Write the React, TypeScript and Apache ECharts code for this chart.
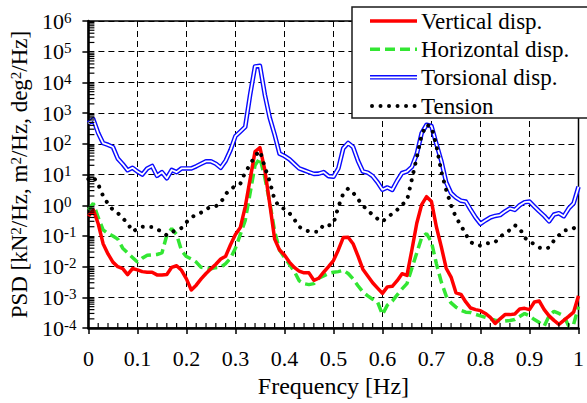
import React, { useEffect, useRef } from 'react';
import * as echarts from 'echarts';

const FREQ = [
  0, 0.01, 0.02, 0.03, 0.04, 0.05, 0.06, 0.07, 0.08, 0.09,
  0.1, 0.11, 0.12, 0.13, 0.14, 0.15, 0.16, 0.17, 0.18, 0.19,
  0.2, 0.21, 0.22, 0.23, 0.24, 0.25, 0.26, 0.27, 0.28, 0.29,
  0.3, 0.31, 0.32, 0.33, 0.34, 0.35, 0.36, 0.37, 0.38, 0.39,
  0.4, 0.41, 0.42, 0.43, 0.44, 0.45, 0.46, 0.47, 0.48, 0.49,
  0.5, 0.51, 0.52, 0.53, 0.54, 0.55, 0.56, 0.57, 0.58, 0.59,
  0.6, 0.61, 0.62, 0.63, 0.64, 0.65, 0.66, 0.67, 0.68, 0.69,
  0.7, 0.71, 0.72, 0.73, 0.74, 0.75, 0.76, 0.77, 0.78, 0.79,
  0.8, 0.81, 0.82, 0.83, 0.84, 0.85, 0.86, 0.87, 0.88, 0.89,
  0.9, 0.91, 0.92, 0.93, 0.94, 0.95, 0.96, 0.97, 0.98, 0.99,
  1.0,
];

const VERTICAL = [
  0.44, 0.71, 0.25, 0.056, 0.026, 0.0141, 0.01, 0.0087, 0.0055, 0.0087,
  0.0079, 0.0069, 0.0066, 0.0066, 0.0054, 0.0054, 0.0056, 0.0095, 0.0107, 0.0076,
  0.004, 0.00174, 0.0025, 0.004, 0.006, 0.0085, 0.012, 0.0178, 0.0219, 0.052,
  0.112, 0.19, 0.89, 7.1, 56, 76, 14.1, 1.12, 0.079, 0.035,
  0.024, 0.0141, 0.0095, 0.0072, 0.0063, 0.0063, 0.0036, 0.0042, 0.0066, 0.01,
  0.0158, 0.035, 0.089, 0.091, 0.056, 0.0224, 0.0083, 0.005, 0.003, 0.002,
  0.00135, 0.0022, 0.0023, 0.0035, 0.0059, 0.0052, 0.035, 0.26, 1.05, 1.9,
  1.32, 0.2, 0.045, 0.0089, 0.0046, 0.00141, 0.00126, 0.00071, 0.00045, 0.0004,
  0.00037, 0.0003, 0.000224, 0.000141, 0.0002, 0.000275, 0.000275, 0.00029, 0.00042, 0.00044,
  0.0004, 0.00071, 0.00076, 0.0004, 0.00025, 0.000178, 0.000132, 0.000178, 0.00024, 0.00033,
  0.00112,
];

const HORIZONTAL = [
  0.71, 1.15, 0.4, 0.158, 0.12, 0.1, 0.079, 0.04, 0.028, 0.02,
  0.0141, 0.019, 0.0234, 0.024, 0.025, 0.028, 0.105, 0.174, 0.112, 0.033,
  0.0214, 0.0178, 0.0141, 0.0095, 0.0091, 0.0085, 0.0093, 0.0095, 0.0126, 0.019,
  0.04, 0.112, 0.32, 2.5, 20, 35, 7.9, 1.26, 0.141, 0.035,
  0.02, 0.012, 0.0071, 0.0035, 0.0028, 0.0026, 0.0028, 0.0042, 0.005, 0.006,
  0.0066, 0.0069, 0.0076, 0.006, 0.004, 0.0024, 0.00151, 0.00112, 0.00087, 0.00071,
  0.000275, 0.00056, 0.00076, 0.0012, 0.0019, 0.0028, 0.0089, 0.028, 0.089, 0.12,
  0.063, 0.0126, 0.0032, 0.00112, 0.00066, 0.00048, 0.00038, 0.00033, 0.00032, 0.00028,
  0.00025, 0.000224, 0.0002, 0.000182, 0.00017, 0.00017, 0.000178, 0.00019, 0.00024, 0.0003,
  0.00025, 0.00019, 0.000151, 0.000117, 0.00025, 0.00035, 0.0003, 0.00025, 0.000117, 0.000132,
  0.0005,
];

const TORSIONAL = [
  470, 630, 224, 105, 93, 79, 33, 22, 13.8, 16.6,
  12.6, 10, 15.8, 19, 9.1, 12, 7.6, 14.1, 12, 15.8,
  15.8, 15.8, 18.6, 22.4, 26.9, 26.9, 22.4, 16.6, 28, 63,
  178, 251, 355, 3980, 33100, 34700, 3980, 708, 200, 48,
  40, 31.6, 22.4, 15.8, 13.8, 12, 10.5, 10.7, 12, 8.9,
  8.5, 15.8, 71, 107, 79, 28, 12.6, 11.5, 8.9, 5.6,
  3.2, 3.8, 3.16, 6.3, 11.2, 12.6, 17.8, 46, 224, 417,
  380, 100, 28, 5.6, 2.5, 1.78, 1.41, 1.32, 0.71, 0.4,
  0.25, 0.32, 0.4, 0.45, 0.48, 0.63, 0.79, 0.71, 1.0, 1.26,
  1.32, 0.91, 0.63, 0.45, 0.3, 0.5, 0.55, 0.44, 0.79, 1.15,
  4.0,
];

const TENSION = [
  7.1, 8.5, 4.8, 2.0, 1.12, 0.71, 0.56, 0.38, 0.26, 0.14,
  0.17, 0.2, 0.195, 0.195, 0.166, 0.138, 0.105, 0.132, 0.158, 0.182,
  0.28, 0.4, 0.5, 0.58, 0.76, 0.87, 0.93, 1.2, 2.3, 3.4,
  4.2, 5.0, 12, 21, 41, 59, 17.4, 6.0, 1.48, 0.89,
  0.76, 0.56, 0.35, 0.2, 0.158, 0.141, 0.138, 0.138, 0.234, 0.219,
  0.25, 0.89, 2.4, 3.5, 2.6, 1.58, 1.0, 0.66, 0.5, 0.36,
  0.29, 0.42, 0.52, 0.71, 1.05, 1.41, 7.0, 36, 200, 417,
  355, 89, 12.6, 3.16, 1.0, 0.4, 0.224, 0.112, 0.063, 0.052,
  0.048, 0.056, 0.06, 0.063, 0.095, 0.12, 0.158, 0.224, 0.178, 0.089,
  0.066, 0.054, 0.042, 0.038, 0.042, 0.071, 0.105, 0.15, 0.158, 0.178,
  0.234,
];

const SERIES_NAMES = ['Vertical disp.', 'Horizontal disp.', 'Torsional disp.', 'Tension'];
const X_NAME = 'Frequency [Hz]';
const Y_NAME = 'PSD [kN{s|2}/Hz, m{s|2}/Hz, deg{s|2}/Hz]';

const X_MIN = 0;
const X_MAX = 1;
const Y_MIN = 1e-4;
const Y_MAX = 1e6;

const FONT = 'Liberation Serif';
const RED = '#ff0000';
const GREEN = '#33e633';
const BLUE = '#0a0aff';

export default function App() {
  const ref = useRef<HTMLDivElement>(null);

  useEffect(() => {
    if (!ref.current) return;
    const chart = echarts.init(ref.current, null, { renderer: 'svg' });

    const pairs = (arr: number[]) => FREQ.map((f, i) => [f, arr[i]]);

    // minor tick positions (axis decoration)
    const minorTicks: number[][] = [];
    for (let i = 1; i < 50; i++) {
      if (i % 5 !== 0) minorTicks.push([i * 0.02, Y_MIN, 0]);
    }
    for (let e = -4; e < 6; e++) {
      for (let k = 2; k <= 9; k++) minorTicks.push([X_MIN, k * Math.pow(10, e), 1]);
    }

    const legendRows = [21, 49.3, 77.3, 106];
    const legendGraphics: any[] = [
      {
        type: 'rect',
        shape: { x: 352, y: 7, width: 260, height: 111 },
        style: { fill: '#fff', stroke: '#1a1a1a', lineWidth: 1.5 },
        z: 100,
      },
      {
        type: 'line',
        shape: { x1: 370, y1: legendRows[0], x2: 417, y2: legendRows[0] },
        style: { stroke: RED, lineWidth: 3.5 },
        z: 101,
      },
      {
        type: 'line',
        shape: { x1: 370, y1: legendRows[1], x2: 417, y2: legendRows[1] },
        style: { stroke: GREEN, lineWidth: 3.5, lineDash: [10, 5] },
        z: 101,
      },
      {
        type: 'line',
        shape: { x1: 370, y1: legendRows[2], x2: 417, y2: legendRows[2] },
        style: { stroke: BLUE, lineWidth: 4.6 },
        z: 101,
      },
      {
        type: 'line',
        shape: { x1: 370, y1: legendRows[2], x2: 417, y2: legendRows[2] },
        style: { stroke: '#fff', lineWidth: 1.8 },
        z: 102,
      },
      {
        type: 'line',
        shape: { x1: 372, y1: legendRows[3], x2: 417, y2: legendRows[3] },
        style: { stroke: '#000', lineWidth: 4, lineDash: [0.01, 8.5], lineCap: 'round' },
        z: 101,
      },
      ...SERIES_NAMES.map((n, i) => ({
        type: 'text',
        x: 421,
        y: legendRows[i] + 0.5,
        style: {
          text: n,
          fontFamily: FONT,
          fontSize: 23,
          fill: '#000',
          align: 'left',
          verticalAlign: 'middle',
        },
        z: 101,
      })),
    ];

    const option: any = {
      animation: false,
      backgroundColor: '#fff',
      textStyle: { fontFamily: FONT },
      grid: {
        left: 86.5,
        top: 21,
        width: 493,
        height: 312.7,
        show: true,
        borderColor: '#000',
        borderWidth: 1.5,
        backgroundColor: 'transparent',
      },
      xAxis: {
        type: 'value',
        min: X_MIN,
        max: X_MAX,
        interval: 0.1,
        name: X_NAME,
        nameLocation: 'middle',
        nameGap: 42,
        nameTextStyle: { fontFamily: FONT, fontSize: 24, color: '#000' },
        axisLine: { show: true, onZero: false, lineStyle: { color: '#000', width: 2.5 } },
        axisTick: { show: true, length: 6, lineStyle: { color: '#000', width: 1.5 } },
        axisLabel: {
          fontFamily: FONT,
          fontSize: 22,
          color: '#000',
          margin: 19,
          formatter: (v: number) => String(Math.round(v * 10) / 10),
        },
        splitLine: { show: true, lineStyle: { color: '#000', width: 1, type: [6, 4] } },
      },
      yAxis: {
        type: 'log',
        logBase: 10,
        min: Y_MIN,
        max: Y_MAX,
        interval: 1,
        splitNumber: 10,
        name: Y_NAME,
        nameLocation: 'middle',
        nameGap: 56,
        nameRotate: 90,
        nameTextStyle: {
          fontFamily: FONT,
          fontSize: 23,
          color: '#000',
          rich: {
            s: { fontFamily: FONT, fontSize: 15, color: '#000', verticalAlign: 'top' },
          },
        },
        axisLine: { show: true, onZero: false, lineStyle: { color: '#000', width: 2.5 } },
        axisTick: { show: true, length: 6, lineStyle: { color: '#000', width: 1.5 } },
        axisLabel: {
          align: 'left',
          margin: 46.5,
          color: '#000',
          fontFamily: FONT,
          formatter: (v: number) => `{b|10}{s|${Math.round(Math.log10(v))}}`,
          rich: {
            b: { fontFamily: FONT, fontSize: 22, color: '#000' },
            s: { fontFamily: FONT, fontSize: 15, color: '#000', verticalAlign: 'top' },
          },
        },
        splitLine: { show: true, lineStyle: { color: '#000', width: 1, type: [6, 4] } },
      },
      graphic: legendGraphics,
      series: [
        {
          name: SERIES_NAMES[2],
          type: 'line',
          data: pairs(TORSIONAL),
          symbol: 'none',
          showSymbol: false,
          lineStyle: { color: BLUE, width: 4.6, join: 'round' },
          z: 2,
        },
        {
          name: SERIES_NAMES[2] + ' ',
          type: 'line',
          data: pairs(TORSIONAL),
          symbol: 'none',
          showSymbol: false,
          lineStyle: { color: '#fff', width: 1.8, join: 'round' },
          z: 3,
        },
        {
          name: SERIES_NAMES[1],
          type: 'line',
          data: pairs(HORIZONTAL),
          symbol: 'none',
          showSymbol: false,
          lineStyle: { color: GREEN, width: 3.5, type: [10, 5] },
          z: 4,
        },
        {
          name: SERIES_NAMES[0],
          type: 'line',
          data: pairs(VERTICAL),
          symbol: 'none',
          showSymbol: false,
          lineStyle: { color: RED, width: 3.5, join: 'round' },
          z: 5,
        },
        {
          name: SERIES_NAMES[3],
          type: 'line',
          data: pairs(TENSION),
          symbol: 'none',
          showSymbol: false,
          lineStyle: { color: '#000', width: 4, type: [0.01, 8.5], cap: 'round' },
          z: 6,
        },
        {
          name: 'minor ticks',
          type: 'custom',
          silent: true,
          clip: false,
          z: 7,
          data: minorTicks,
          renderItem: (_params: any, api: any) => {
            const kind = api.value(2);
            const p = api.coord([api.value(0), api.value(1)]);
            if (kind === 0) {
              return {
                type: 'line',
                shape: { x1: p[0], y1: p[1], x2: p[0], y2: p[1] - 5 },
                style: { stroke: '#000', lineWidth: 1.2 },
              };
            }
            return {
              type: 'line',
              shape: { x1: p[0], y1: p[1], x2: p[0] + 6, y2: p[1] },
              style: { stroke: '#000', lineWidth: 1.2 },
            };
          },
        },
      ],
    };

    chart.setOption(option);
    return () => chart.dispose();
  }, []);

  return (
    <div
      ref={ref}
      style={{ position: 'fixed', left: 0, top: 0, width: 587, height: 403, background: '#fff' }}
    />
  );
}
